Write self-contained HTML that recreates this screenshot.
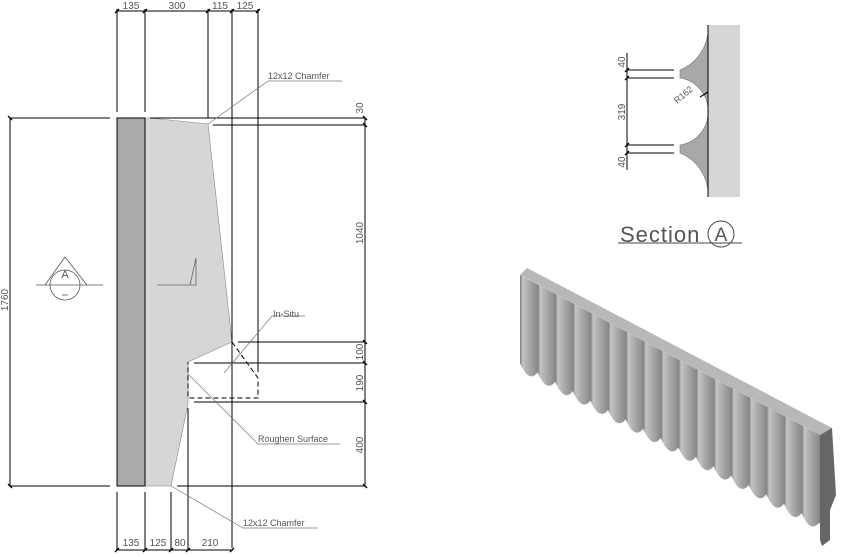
<!DOCTYPE html>
<html><head><style>body{margin:0;background:#fff}svg{display:block}text{font-family:"Liberation Sans",sans-serif;fill:#555}</style></head><body>
<svg width="850" height="557" viewBox="0 0 850 557" xmlns="http://www.w3.org/2000/svg">
<defs>
<linearGradient id="col" x1="0" x2="1" y1="0" y2="0">
<stop offset="0" stop-color="#777"/><stop offset="0.15" stop-color="#c4c4c4"/><stop offset="0.6" stop-color="#a4a4a4"/><stop offset="1" stop-color="#8a8a8a"/></linearGradient>
<pattern id="cols" width="17.6" height="200" patternUnits="userSpaceOnUse">
<rect x="0" y="0" width="17.6" height="200" fill="url(#col)"/>
<path d="M0,88 Q8.8,104 17.6,88 L17.6,200 L0,200Z" fill="#fff"/>
</pattern>
</defs>
<g stroke="#000" stroke-width="1" fill="none">
<rect x="117" y="118" width="28" height="368" fill="#aaa"/>
<polygon points="150,118 208,124 232,342 188,362 188,404 171,486 145,486 145,118" fill="#d6d6d6" stroke="#888" stroke-width="0.6"/>
<line x1="145" y1="118" x2="145" y2="486"/>
<line x1="117" y1="9" x2="117" y2="112"/><line x1="145" y1="9" x2="145" y2="112"/>
<line x1="208" y1="9" x2="208" y2="118"/><line x1="232" y1="9" x2="232" y2="342"/>
<line x1="258" y1="9" x2="258" y2="372"/>
<line x1="232" y1="342" x2="232" y2="548"/>
<line x1="117" y1="492" x2="117" y2="550"/><line x1="145" y1="492" x2="145" y2="550"/>
<line x1="171" y1="492" x2="171" y2="550"/><line x1="188" y1="408" x2="188" y2="550"/>
<line x1="116" y1="11" x2="259" y2="11"/>
<line x1="10" y1="118" x2="110" y2="118"/><line x1="150" y1="118" x2="365" y2="118"/>
<line x1="213" y1="125" x2="365" y2="125"/>
<line x1="238" y1="342" x2="365" y2="342"/>
<line x1="194" y1="363" x2="365" y2="363"/>
<line x1="194" y1="402" x2="365" y2="402"/>
<line x1="10" y1="486" x2="110" y2="486"/><line x1="177" y1="486" x2="365" y2="486"/>
<line x1="365" y1="118" x2="365" y2="486"/>
<line x1="10" y1="118" x2="10" y2="486"/>
<line x1="116" y1="550" x2="233" y2="550"/>
<g stroke-width="1.3">
<path d="M115,13l4,-4M143,13l4,-4M206,13l4,-4M230,13l4,-4M256,13l4,-4"/>
<path d="M363,116l4,4M363,123l4,4M363,340l4,4M363,361l4,4M363,400l4,4M363,484l4,4"/>
<path d="M8,116l4,4M8,484l4,4"/>
<path d="M115,552l4,-4M143,552l4,-4M169,552l4,-4M186,552l4,-4M230,552l4,-4"/>
</g>
<path d="M232,342 L258,378 L258,398 L188,398 L188,362" stroke-dasharray="5,3"/>
<g stroke="#777" stroke-width="0.7">
<path d="M342,81 L268,81 L208,124"/>
<path d="M305,316 L272,316 L224,373"/>
<path d="M340,444 L258,444 L188,374"/>
<path d="M318,528 L243,528 L171,486"/>
</g>
<g stroke="#555" stroke-width="0.8">
<path d="M36,285 L103,285 M45,285 L65,257 L87,285"/>
<circle cx="65" cy="285" r="15"/>
<line x1="62" y1="295" x2="68" y2="295"/>
<path d="M157,285 L196,285 L196,258 L190,285" stroke="#666"/>
</g>
<rect x="708" y="25" width="32" height="172" fill="#d6d6d6" stroke="none"/>
<path d="M708,25 A45 45 0 0 1 680,70 L680,78 A33 33 0 0 1 708,111 A33 33 0 0 1 680,145 L680,153 A45 45 0 0 1 708,197 Z" fill="#a8a8a8" stroke="#777" stroke-width="0.6"/>
<line x1="708" y1="25" x2="708" y2="197"/>
<line x1="627" y1="53" x2="627" y2="170"/>
<path d="M627,70H674M627,78H674M627,145H674M627,153H674"/>
<path d="M625,72l4,-4M625,80l4,-4M625,147l4,-4M625,155l4,-4" stroke-width="1.3"/>
<path d="M700,97 L708,92" stroke-width="1.2"/>
<line x1="618" y1="243" x2="742" y2="243" stroke="#444"/>
<circle cx="721" cy="234" r="13" stroke="#444"/>
</g>
<g font-size="10">
<text x="131" y="9" text-anchor="middle">135</text>
<text x="177" y="9" text-anchor="middle">300</text>
<text x="220" y="9" text-anchor="middle">115</text>
<text x="245" y="9" text-anchor="middle">125</text>
<text x="131" y="546" text-anchor="middle">135</text>
<text x="158" y="546" text-anchor="middle">125</text>
<text x="180" y="546" text-anchor="middle">80</text>
<text x="210" y="546" text-anchor="middle">210</text>
<text x="268" y="79" font-size="9">12x12  Chamfer</text>
<text x="273" y="317" font-size="9">In-Situ</text>
<text x="258" y="442" font-size="9">Roughen  Surface</text>
<text x="243" y="526" font-size="9">12x12  Chamfer</text>
<text transform="translate(363,108) rotate(-90)" text-anchor="middle">30</text>
<text transform="translate(363,233) rotate(-90)" text-anchor="middle">1040</text>
<text transform="translate(363,352) rotate(-90)" text-anchor="middle">100</text>
<text transform="translate(363,383) rotate(-90)" text-anchor="middle">190</text>
<text transform="translate(363,445) rotate(-90)" text-anchor="middle">400</text>
<text transform="translate(8,300) rotate(-90)" text-anchor="middle">1760</text>
<text transform="translate(625,62) rotate(-90)" text-anchor="middle">40</text>
<text transform="translate(625,112) rotate(-90)" text-anchor="middle">319</text>
<text transform="translate(625,162) rotate(-90)" text-anchor="middle">40</text>
<text transform="translate(677,104) rotate(-40)" font-size="9">R162</text>
<text x="65" y="278" text-anchor="middle" font-size="11">A</text>
</g>
<text x="620" y="242" font-size="22" fill="#777" letter-spacing="1">Section</text>
<text x="721" y="241" font-size="19" text-anchor="middle" fill="#666">A</text>
<polygon points="520,275 527,268 832,428 820,435" fill="#b8b8b8"/>
<g transform="matrix(1,0.533,0,1,520,275)">
<rect x="0" y="0" width="300" height="100" fill="url(#cols)"/>
</g>
<polygon points="820,435 832,428 836,495 830,510 830,540 822,546 820,540" fill="#666"/>
</svg>
</body></html>
